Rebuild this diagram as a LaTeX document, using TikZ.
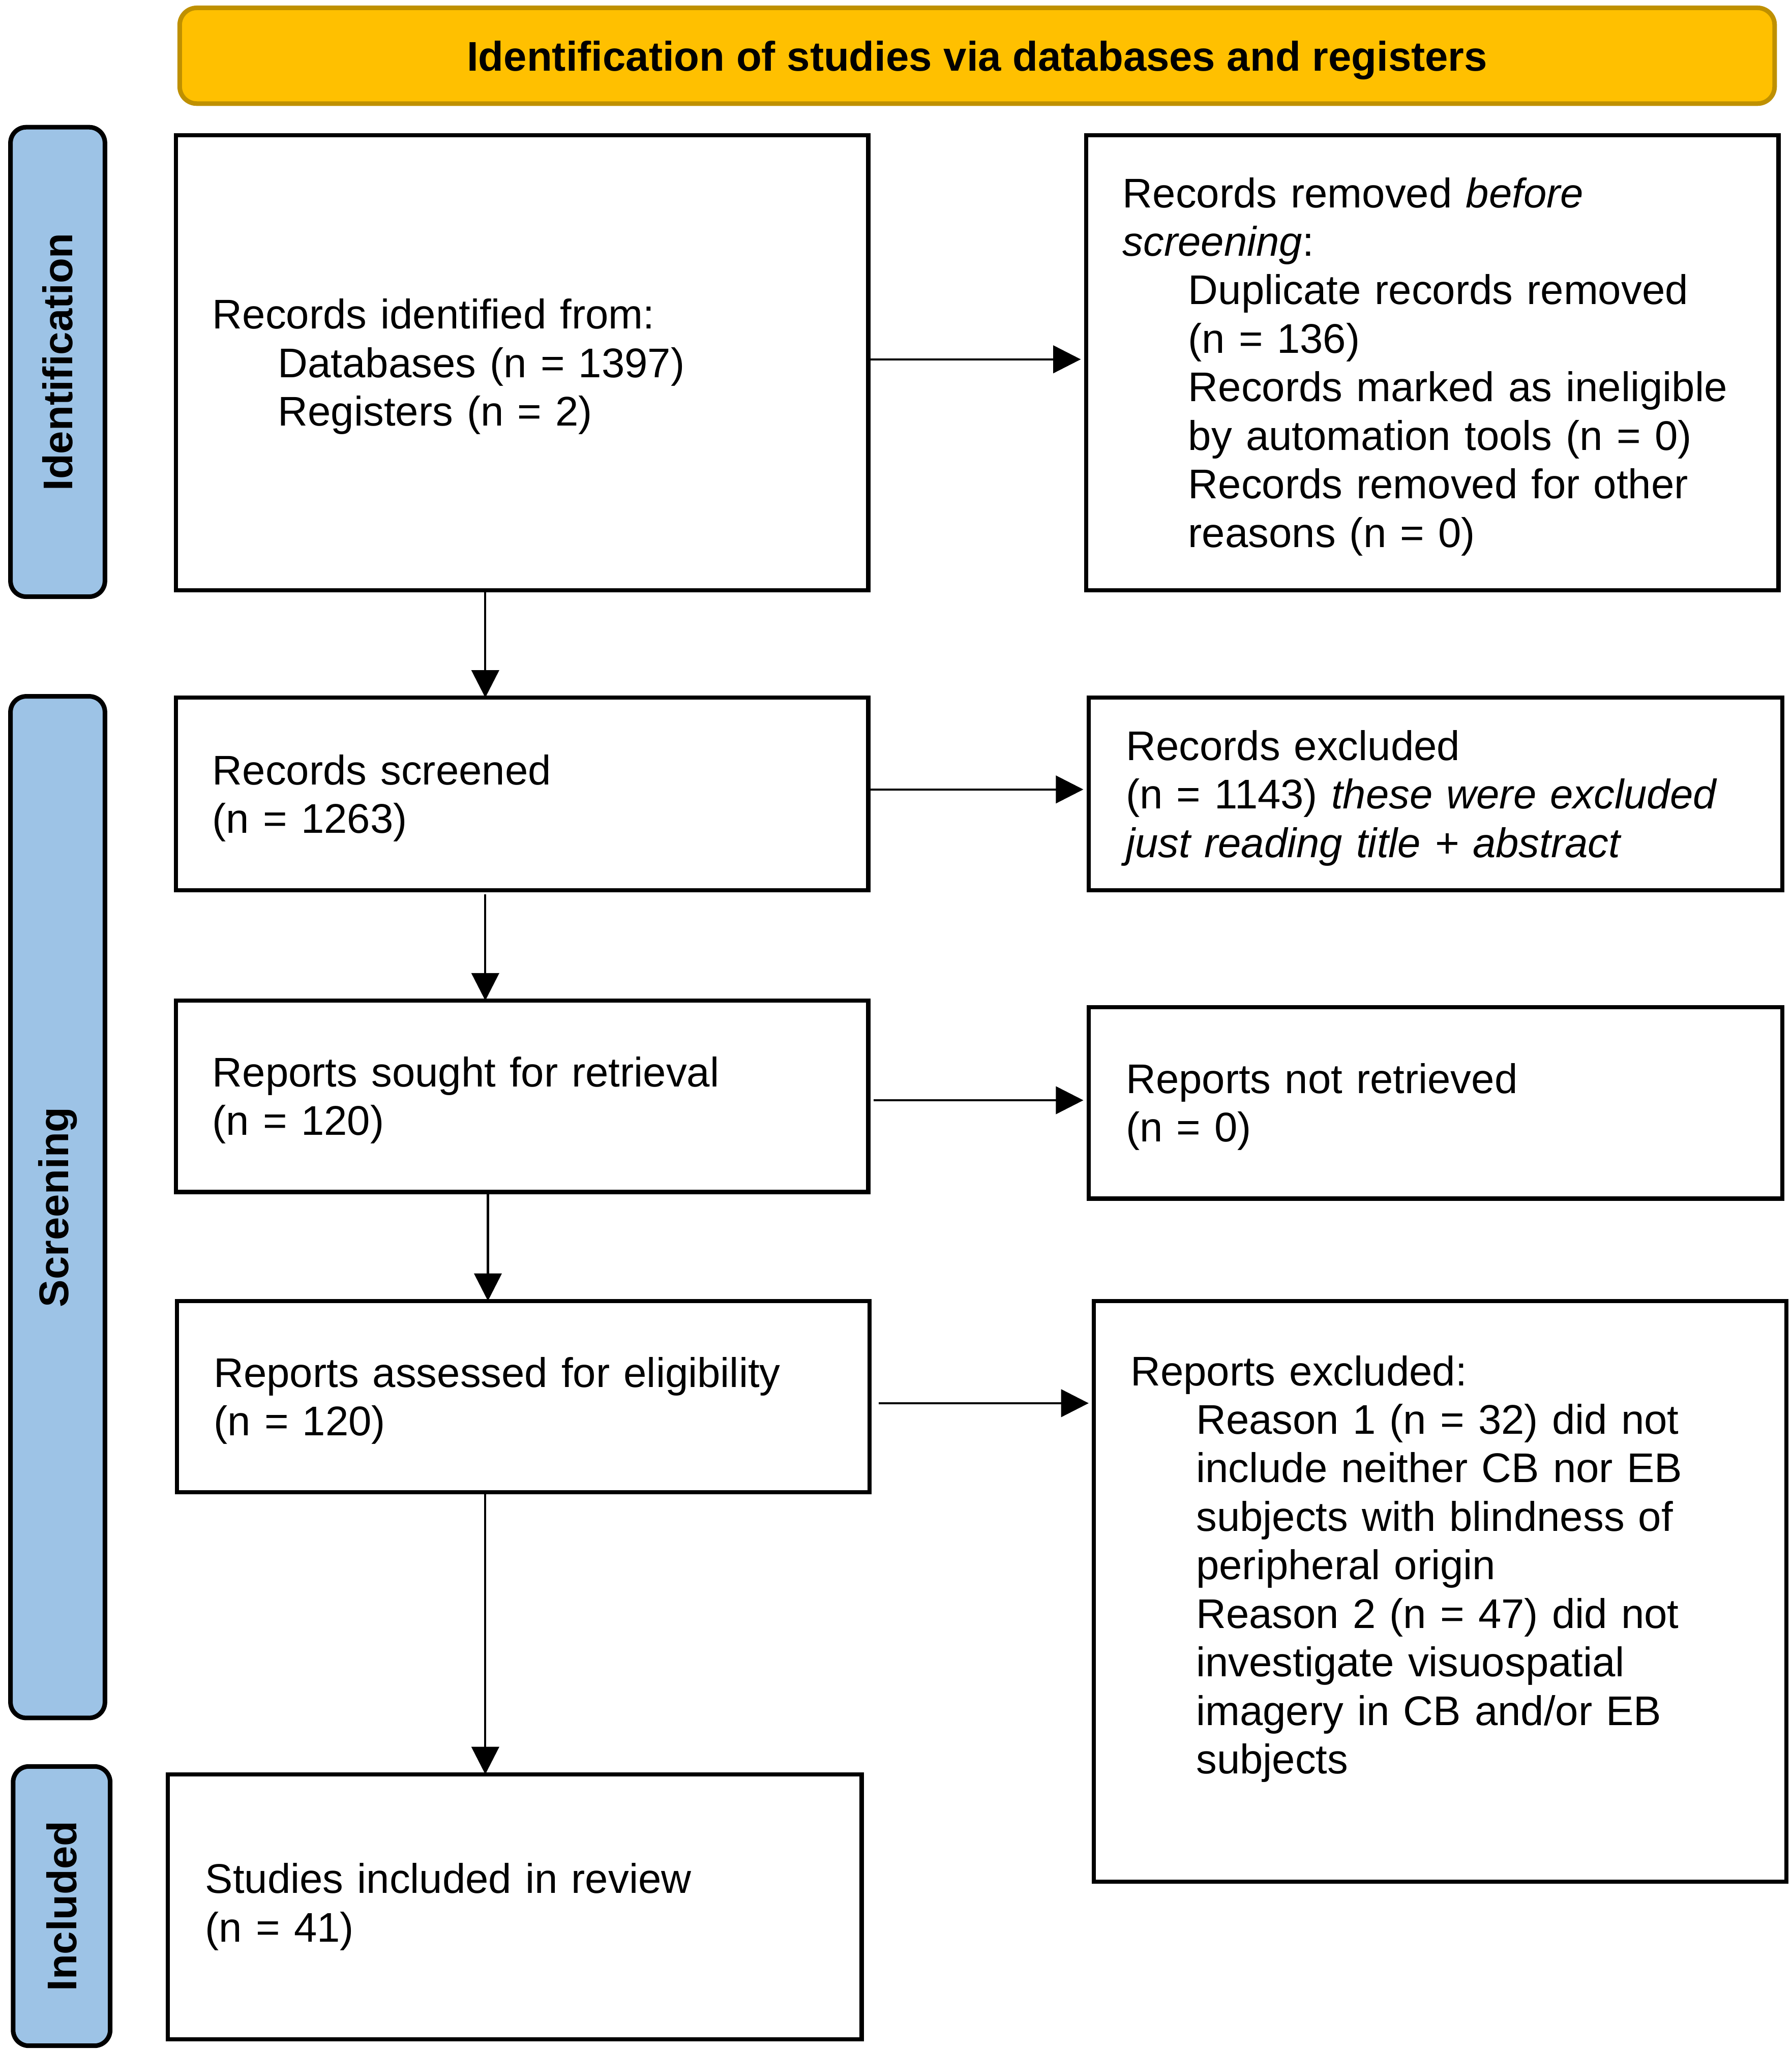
\documentclass[tikz,border=0pt]{standalone}
\usepackage{fontspec}
\setmainfont{Liberation Sans}
\usetikzlibrary{arrows.meta}
\definecolor{hdrfill}{HTML}{FFC000}
\definecolor{hdrdraw}{HTML}{BF9000}
\definecolor{sidefill}{HTML}{9DC3E6}
\newcommand\mytopstrut{\rule{0pt}{29pt}}
\begin{document}
\begin{tikzpicture}[x=1pt,y=-1pt,
  txt/.style={font=\fontsize{31.6pt}{37pt}\selectfont},
  box/.style={txt,draw=black,line width=3.2pt,fill=white,anchor=north west,outer sep=0pt,
    inner xsep=28pt,inner ysep=0pt,text width=472pt,align=left},
  side/.style={draw=black,fill=sidefill,line width=3.5pt,rounded corners=12pt,rotate=90,
    outer sep=0pt,font=\fontsize{31.6pt}{37pt}\selectfont\bfseries},
  arr/.style={line width=1.6pt,-{Triangle[length=21pt,width=21pt]}},
]
\useasboundingbox (0,0) rectangle (1366,1564);

% header
\node[draw=hdrdraw,fill=hdrfill,line width=3.5pt,rounded corners=13pt,
  minimum width=1216pt,minimum height=73pt,anchor=north west,outer sep=0pt,text depth=0pt,
  font=\fontsize{31.6pt}{37pt}\selectfont\bfseries] (hdr) at (137,6)
  {Identification of studies via databases and registers};

% side labels
\node[side,minimum width=358pt,minimum height=72pt] (sidId) at (44,276) {Identification};
\node[side,minimum width=779pt,minimum height=72pt] (sidSc) at (44,920.5) {Screening};
\node[side,minimum width=213pt,minimum height=74pt] (sidIn) at (47,1453.5) {Included};

% boxes
\node[box,minimum width=528pt,minimum height=347pt] (b1) at (134,103)
  {\mytopstrut Records identified from:\\
   \hspace*{50pt}Databases (n = 1397)\\
   \hspace*{50pt}Registers (n = 2)};
\node[box,minimum width=528pt,minimum height=347pt] (b2) at (828,103)
  {\mytopstrut Records removed \textit{before}\\
   \textit{screening}:\\
   \hspace*{50pt}Duplicate records removed\\
   \hspace*{50pt}(n = 136)\\
   \hspace*{50pt}Records marked as ineligible\\
   \hspace*{50pt}by automation tools (n = 0)\\
   \hspace*{50pt}Records removed for other\\
   \hspace*{50pt}reasons (n = 0)};
\node[box,minimum width=528pt,minimum height=147pt] (b3) at (134,532)
  {\mytopstrut Records screened\\
   (n = 1263)};
\node[box,minimum width=529pt,minimum height=147pt] (b4) at (830,532)
  {\mytopstrut Records excluded\\
   (n = 1143) \textit{these were excluded}\\
   \textit{just reading title + abstract}};
\node[box,minimum width=528pt,minimum height=146pt] (b5) at (134,763)
  {\mytopstrut Reports sought for retrieval\\
   (n = 120)};
\node[box,minimum width=529pt,minimum height=146pt] (b6) at (830,768)
  {\mytopstrut Reports not retrieved\\
   (n = 0)};
\node[box,minimum width=528pt,minimum height=146pt] (b7) at (135,992)
  {\mytopstrut Reports assessed for eligibility\\
   (n = 120)};
\node[box,minimum width=528pt,minimum height=443pt] (b8) at (834,992)
  {\mytopstrut Reports excluded:\\
   \hspace*{50pt}Reason 1 (n = 32) did not\\
   \hspace*{50pt}include neither CB nor EB\\
   \hspace*{50pt}subjects with blindness of\\
   \hspace*{50pt}peripheral origin\\
   \hspace*{50pt}Reason 2 (n = 47) did not\\
   \hspace*{50pt}investigate visuospatial\\
   \hspace*{50pt}imagery in CB and/or EB\\
   \hspace*{50pt}subjects\\[10pt]
   \mbox{}};
\node[box,minimum width=529pt,minimum height=202pt] (b9) at (128,1353)
  {Studies included in review\\
   (n = 41)};

% connector guides
\coordinate (cx) at (370,0);
\coordinate (cxb) at (372,0);
\coordinate (ya) at (0,274);
\coordinate (yb) at (0,602);
\coordinate (yc) at (0,839);
\coordinate (yd) at (0,1070);

% vertical arrows
\draw[arr] (b1.south -| cx) -- (b3.north -| cx);
\draw[arr,shorten <=3pt] (b3.south -| cx) -- (b5.north -| cx);
\draw[arr] (b5.south -| cxb) -- (b7.north -| cxb);
\draw[arr] (b7.south -| cx) -- (b9.north -| cx);

% horizontal arrows
\draw[arr,shorten >=4pt] (b1.east |- ya) -- (b2.west |- ya);
\draw[arr,shorten >=4pt] (b3.east |- yb) -- (b4.west |- yb);
\draw[arr,shorten <=4pt,shorten >=4pt] (b5.east |- yc) -- (b6.west |- yc);
\draw[arr,shorten <=7pt,shorten >=4pt] (b7.east |- yd) -- (b8.west |- yd);
\end{tikzpicture}
\end{document}
